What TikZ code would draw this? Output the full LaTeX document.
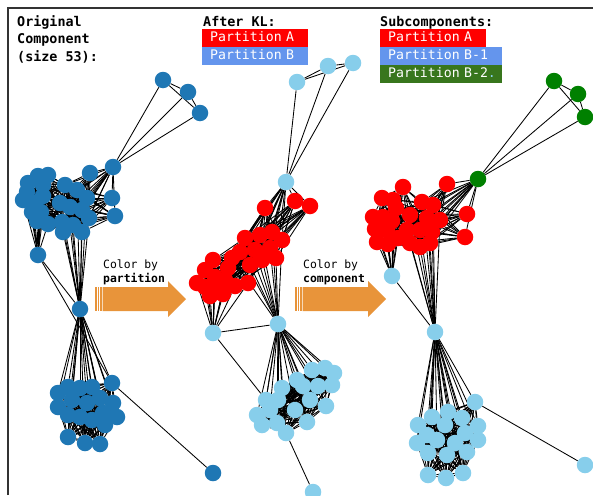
\documentclass[tikz,border=0pt]{standalone}
\usepackage{fontspec}
\setmonofont{DejaVu Sans Mono}
\pgfdeclarelayer{bg}
\pgfsetlayers{bg,main}
\definecolor{cblue}{HTML}{1F77B4}
\definecolor{skyb}{HTML}{87CEEB}
\definecolor{pred}{HTML}{FF0000}
\definecolor{pgreen}{HTML}{008000}
\definecolor{lgblue}{HTML}{6495ED}
\definecolor{lggreen}{HTML}{38761D}
\definecolor{org}{HTML}{E8943A}
\definecolor{frm}{HTML}{333333}
\tikzset{
  vtx/.style={circle,inner sep=0pt,minimum size=16.5pt,draw=none},
  edge/.style={black,line width=0.85pt},
  ttl/.style={font=\ttfamily\bfseries\fontsize{13.4}{16}\selectfont,anchor=base west,inner sep=0pt},
  captxt/.style={font=\ttfamily\fontsize{11.4}{13}\selectfont,anchor=base west,inner sep=0pt},
  captxtb/.style={font=\ttfamily\bfseries\fontsize{11.4}{13}\selectfont,anchor=base west,inner sep=0pt},
  lgd/.style={font=\ttfamily\fontsize{13.2}{16}\selectfont,text=white,anchor=north west,
    inner xsep=0pt,inner ysep=0pt,minimum height=18pt,text height=10pt,text depth=3pt,align=left},
}
\newcommand\mkgrp[3]{\foreach \xx/\yy [count=\i] in {#3}{\node[vtx,#2] (#1\i) at (\xx,\yy) {};}}
\newcommand\cmpl[2]{\foreach \i in {1,...,#2}{\foreach \j in {1,...,#2}{\ifnum\i<\j\relax\draw[edge] (#1\i) -- (#1\j);\fi}}}
\newcommand\fanto[3]{\foreach \i in {1,...,#3}{\draw[edge] (#1) -- (#2\i);}}
\newcommand\bip[4]{\foreach \i in {1,...,#2}{\foreach \j in {1,...,#4}{\pgfmathtruncatemacro\rr{mod(\i+\j,2)}\ifnum\rr=0\relax\draw[edge] (#1\i) -- (#3\j);\fi}}}
\newcommand\wire[1]{%
  \cmpl{#1T}{3}\fanto{#1Ha}{#1T}{3}\fanto{#1Ha}{#1I}{3}\fanto{#1Ha}{#1R}{11}
  \foreach \k in {1,2,3}{\fanto{#1I\k}{#1R}{11}}
  \cmpl{#1L}{12}\cmpl{#1R}{11}\bip{#1L}{12}{#1R}{11}
  \fanto{#1Q}{#1L}{12}\draw[edge] (#1Q) -- (#1Hb);
  \fanto{#1Hb}{#1R}{11}\fanto{#1Hb}{#1B}{19}\cmpl{#1B}{19}
  \draw[edge] (#1B2) -- (#1F);}
\begin{document}
\begin{tikzpicture}[x=1pt,y=-1pt]
\useasboundingbox (0,0) rectangle (593,495);
\draw[frm,line width=2pt] (8,495) -- (8,8) -- (593,8);

% titles and legends
\node[ttl] (t1) at (17,27) {Original};
\node[ttl] (t2) at (17,44) {Component};
\node[ttl] (t3) at (17,61) {(size 53):};
\node[ttl] (t4) at (203,27) {After KL:};
\node[ttl] (t5) at (380,27) {Subcomponents:};
\node[lgd,fill=pred,text width=106pt] (la) at (202,29) {\hspace*{8pt}Partition A};
\node[lgd,fill=lgblue,text width=106pt] (lb) at (202,47) {\hspace*{8pt}Partition B};
\node[lgd,fill=pred,text width=106pt] (ma) at (380,29) {\hspace*{8pt}Partition A};
\node[lgd,fill=lgblue,text width=122pt] (mb1) at (380,47) {\hspace*{8pt}Partition B-1};
\node[lgd,fill=lggreen,text width=122pt] (mb2) at (380,65) {\hspace*{8pt}Partition B-2\textcolor{skyb}{.}};

% arrows
\foreach \s in {0,200}{
  \fill[org] (95+\s,287) rectangle (96.5+\s,311);
  \fill[org] (97.5+\s,287) rectangle (99+\s,311);
  \fill[org] (100+\s,287) rectangle (101.5+\s,311);
  \fill[org] (102.5+\s,287) -- (168+\s,287) -- (168+\s,281) -- (186+\s,299) -- (168+\s,317) -- (168+\s,311) -- (102.5+\s,311) -- cycle;
}
\node[captxt] (c1) at (103,268) {Color by};
\node[captxtb] (c2) at (103,282) {partition};
\node[captxt] (c3) at (303,268) {Color by};
\node[captxtb] (c4) at (303,282) {component};

% ---------- panel 1 ----------
\mkgrp{aT}{fill=cblue}{163/80,188/92,200/113}
\node[vtx,fill=cblue] (aHa) at (113,167) {};
\mkgrp{aI}{fill=cblue}{90/173,112/198,115/216}
\mkgrp{aL}{fill=cblue}{28/183,38/176,48/175,43/185,23/200,33/203,43/196,27/192,32/212,41/212,37/221,48/224}
\mkgrp{aR}{fill=cblue}{65/185,77/190,87/198,60/203,70/207,82/210,89/218,62/222,73/225,82/232,63/232}
\node[vtx,fill=cblue] (aQ) at (38,255) {};
\node[vtx,fill=cblue] (aHb) at (80,309) {};
\mkgrp{aB}{fill=cblue}{68/387,112/383,80/388,92/387,58/393,72/400,87/403,100/398,113/403,58/407,68/415,80/417,92/420,103/413,117/417,105/425,68/437,85/443,100/444}
\node[vtx,fill=cblue] (aF) at (213,473) {};

% ---------- panel 2 ----------
\mkgrp{bT}{fill=skyb}{297/82,328/66,353/63}
\node[vtx,fill=skyb] (bHa) at (286,182) {};
\mkgrp{bI}{fill=pred}{265/208,295/201,310/206}
\mkgrp{bL}{fill=pred}{213/260,205/270,215/277,225/280,197/283,205/287,215/288,223/294,210/296,235/286,248/283,228/268}
\mkgrp{bR}{fill=pred}{245/238,260/235,272/232,282/240,270/248,255/250,240/252,232/258,262/260,276/258,250/265}
\node[vtx,fill=skyb] (bQ) at (213,333) {};
\node[vtx,fill=skyb] (bHb) at (278,324) {};
\mkgrp{bB}{fill=skyb}{266/400,286/433,312/370,325/368,334/373,297/380,303/386,318/386,332/385,282/388,278/400,295/410,310/400,326/406,257/415,262/425,277/423,307/422,270/410}
\node[vtx,fill=skyb] (bF) at (313,492) {};

% ---------- panel 3 ----------
\mkgrp{cT}{fill=pgreen}{554/81,578/94,585/117}
\node[vtx,fill=pgreen] (cHa) at (478,179) {};
\mkgrp{cI}{fill=pred}{447/184,467/214,465/237}
\mkgrp{cL}{fill=pred}{403/187,382/198,393/200,373/217,383/217,392/221,375/229,387/230,377/242,396/208,398/238,388/244}
\mkgrp{cR}{fill=pred}{422/202,433/205,410/215,427/218,440/220,407/230,420/230,432/232,410/243,420/247,430/243}
\node[vtx,fill=skyb] (cQ) at (392,276) {};
\node[vtx,fill=skyb] (cHb) at (435,332) {};
\mkgrp{cB}{fill=skyb}{418/425,475/402,432/417,448/412,462/418,478/426,445/425,427/435,465/433,478/440,417/443,437/440,455/443,428/453,447/455,467/452,428/475,446/478,463/473}
\node[vtx,fill=skyb] (cF) at (585,465) {};

\begin{pgfonlayer}{bg}
\wire{a}\wire{b}\wire{c}
\draw[edge] (aQ) -- (aB2);
\draw[edge] (bQ) -- (bB1);
\end{pgfonlayer}
\end{tikzpicture}
\end{document}
